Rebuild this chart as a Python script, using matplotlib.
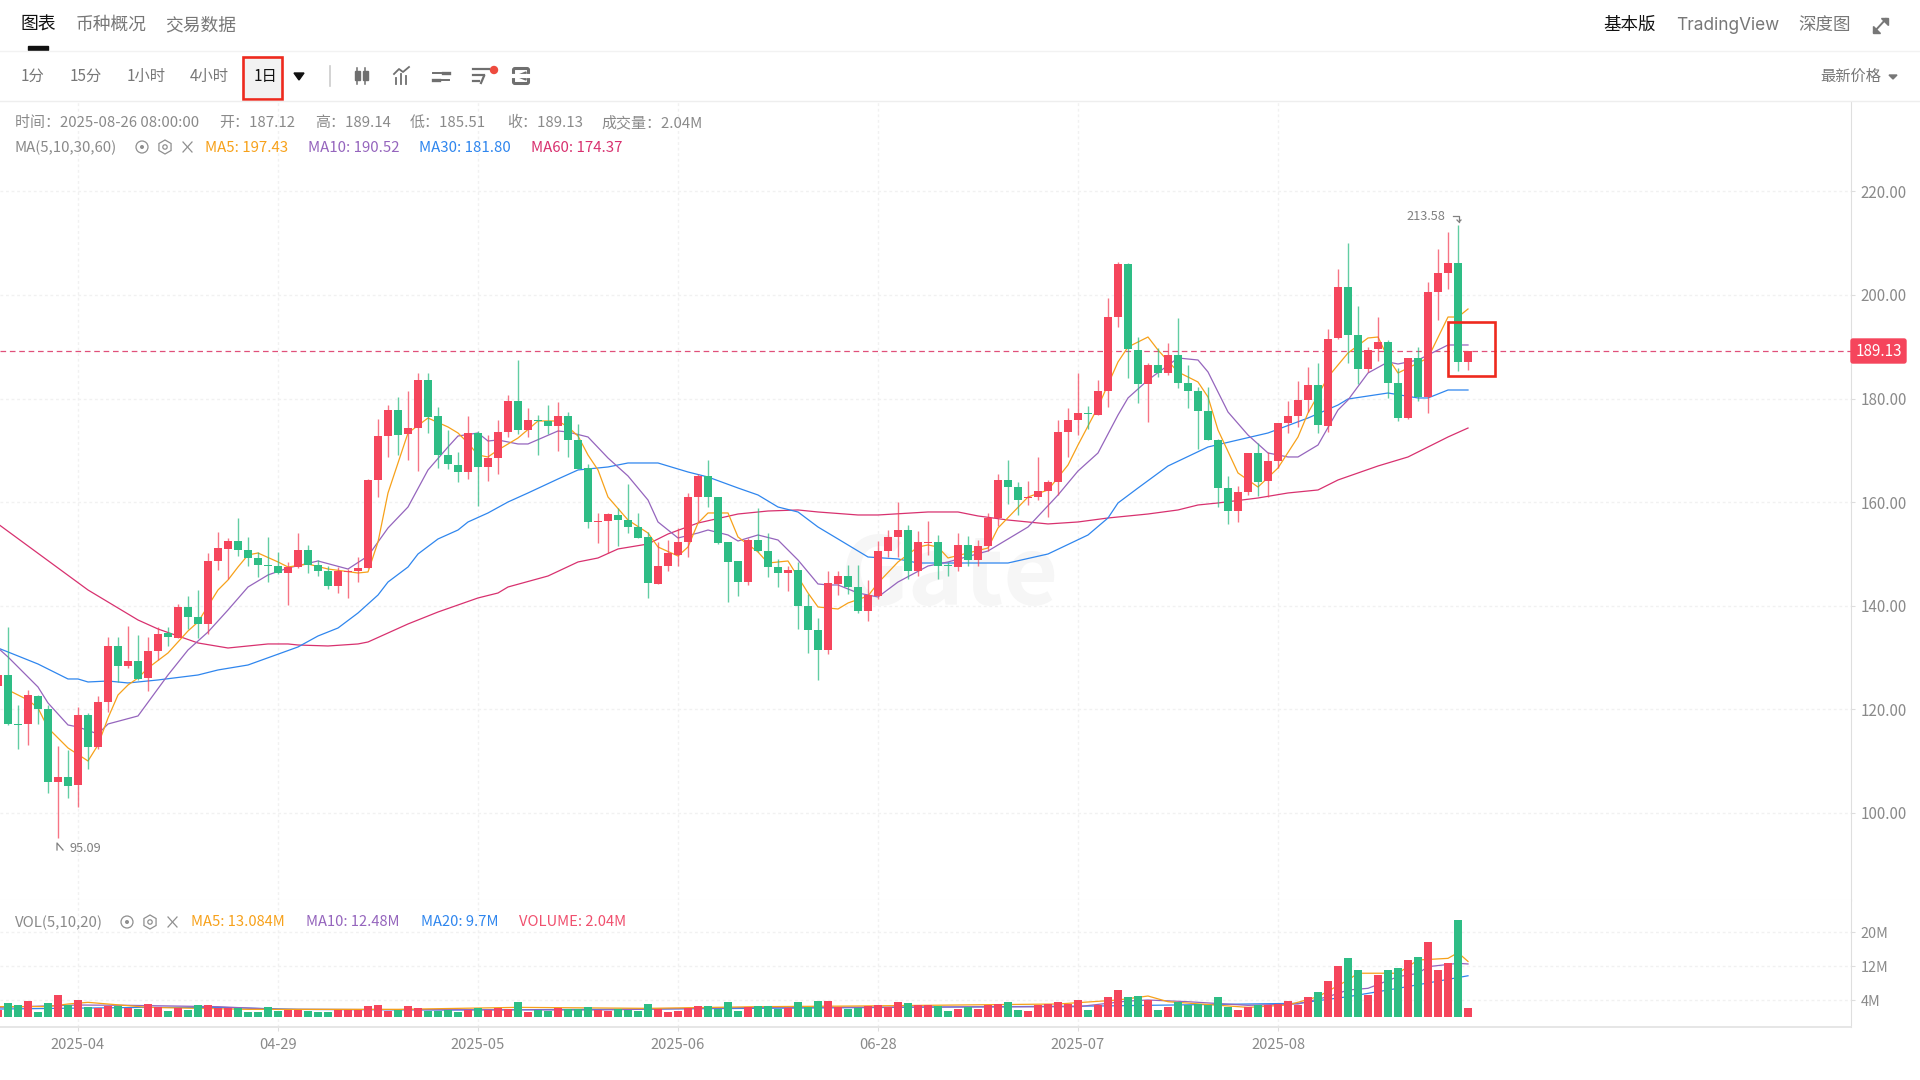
import numpy as np
import matplotlib
matplotlib.use("Agg")
import matplotlib.pyplot as plt
from matplotlib.patches import Rectangle, Circle, RegularPolygon, FancyBboxPatch, Polygon

plt.rcParams['font.family'] = ['Noto Sans CJK SC', 'DejaVu Sans']

# --- daily candles ---
opens = [124.58, 126.64, 117.18, 117.11, 122.58, 120.07, 105.91, 106.88, 105.47, 118.91,
         112.67, 121.36, 132.23, 128.44, 129.27, 126.00, 131.33, 134.68, 133.84, 139.76,
         137.83, 136.55, 148.71, 151.02, 152.44, 150.83, 149.16, 147.87, 147.68, 146.26,
         147.49, 150.83, 147.87, 146.71, 143.82, 146.52, 146.78, 147.23, 164.28, 172.78,
         177.86, 173.23, 174.26, 183.65, 176.64, 169.11, 167.24, 165.83, 173.29, 166.79,
         168.47, 173.49, 179.53, 173.94, 175.87, 175.74, 174.77, 176.64, 172.07, 166.54,
         156.24, 156.37, 157.53, 156.56, 155.21, 153.22, 144.27, 147.68, 149.74, 152.31,
         161.00, 165.06, 161.00, 152.31, 148.58, 144.59, 152.70, 150.58, 147.42, 146.27,
         146.91, 139.96, 135.33, 131.47, 144.21, 145.76, 143.57, 139.06, 141.89, 150.58,
         153.22, 154.70, 146.79, 152.06, 152.25, 147.75, 147.43, 151.74, 148.84, 151.55,
         156.89, 164.29, 162.94, 160.81, 161.01, 162.10, 163.90, 173.55, 175.87, 177.15,
         176.90, 181.53, 195.69, 205.92, 189.38, 182.76, 186.55, 184.88, 188.48, 182.95,
         181.40, 177.54, 172.01, 162.68, 158.37, 161.97, 169.44, 164.16, 168.02, 175.23,
         176.64, 179.73, 182.69, 174.78, 191.64, 201.48, 192.34, 185.65, 189.51, 190.86,
         182.95, 176.19, 187.77, 180.25, 200.65, 204.18, 206.11, 187.12]
closes = [126.64, 117.18, 117.05, 122.77, 120.14, 105.91, 106.88, 105.21, 118.91, 112.67,
          121.36, 132.23, 128.44, 129.27, 125.93, 131.27, 134.62, 133.97, 139.76, 137.83,
          136.55, 148.64, 151.09, 152.44, 150.83, 149.16, 147.94, 147.74, 146.26, 147.55,
          150.77, 147.87, 146.78, 143.82, 146.71, 146.65, 147.23, 164.28, 172.78, 177.86,
          173.03, 174.26, 183.65, 176.51, 169.11, 167.44, 165.83, 173.29, 166.79, 168.47,
          173.49, 179.53, 173.94, 175.93, 175.74, 174.77, 176.64, 172.07, 166.47, 156.18,
          156.37, 157.66, 156.56, 155.21, 153.15, 144.33, 147.68, 150.13, 152.31, 161.00,
          165.06, 161.00, 152.19, 148.45, 144.59, 152.70, 150.58, 147.42, 146.27, 146.91,
          140.03, 135.33, 131.47, 144.34, 145.76, 143.57, 139.00, 142.09, 150.52, 153.22,
          154.70, 146.79, 152.25, 152.19, 147.75, 147.62, 151.74, 148.84, 151.48, 156.95,
          164.29, 162.94, 160.43, 160.94, 162.10, 163.84, 173.55, 175.87, 177.15, 177.03,
          181.40, 195.69, 205.92, 189.51, 182.76, 186.55, 184.88, 188.42, 183.08, 181.53,
          177.67, 172.07, 162.68, 158.37, 161.97, 169.44, 163.97, 167.89, 175.23, 176.64,
          179.79, 182.69, 174.84, 191.57, 201.48, 192.34, 185.65, 189.38, 190.86, 182.95,
          176.19, 187.77, 180.25, 200.52, 204.18, 206.11, 187.00, 189.13]
highs = [127.60, 135.97, 120.84, 123.74, 122.77, 120.84, 112.93, 112.16, 120.52, 119.24,
         122.58, 134.04, 134.04, 136.10, 134.36, 134.04, 135.97, 135.84, 140.34, 141.89,
         143.05, 150.12, 154.18, 153.02, 156.88, 153.21, 150.32, 153.21, 150.32, 148.52,
         153.98, 151.73, 148.84, 147.68, 147.55, 147.10, 149.35, 164.41, 176.06, 178.76,
         180.24, 181.40, 184.88, 184.88, 178.31, 173.94, 169.75, 176.64, 173.74, 172.97,
         175.87, 180.69, 187.45, 178.12, 176.83, 178.76, 179.34, 177.41, 175.09, 167.37,
         157.85, 157.85, 158.81, 163.51, 157.85, 154.31, 152.38, 152.70, 155.08, 161.71,
         165.44, 168.14, 161.07, 152.38, 148.65, 153.02, 158.81, 154.12, 148.97, 147.68,
         148.52, 142.28, 137.58, 146.72, 146.72, 147.88, 147.88, 144.98, 152.51, 154.64,
         159.98, 155.60, 154.44, 156.37, 153.67, 148.39, 153.99, 153.48, 152.71, 157.85,
         165.38, 168.15, 163.84, 164.10, 168.66, 164.29, 175.87, 178.12, 184.88, 178.57,
         183.59, 199.36, 206.31, 206.12, 191.83, 186.81, 189.71, 190.67, 195.50, 186.49,
         182.31, 182.31, 172.14, 165.06, 163.13, 169.56, 171.37, 169.76, 175.36, 179.54,
         183.40, 186.04, 186.81, 193.50, 204.96, 209.98, 197.88, 190.03, 195.69, 191.31,
         185.84, 187.90, 189.90, 202.51, 208.82, 212.23, 213.58, 189.14]
lows = [123.74, 116.98, 112.29, 113.12, 117.11, 103.79, 95.09, 102.83, 101.09, 108.43,
        112.29, 119.56, 125.35, 128.05, 125.67, 123.61, 129.53, 132.23, 133.71, 135.45,
        133.71, 134.55, 146.91, 145.10, 149.67, 147.74, 145.49, 144.65, 146.13, 140.15,
        147.36, 146.26, 145.75, 143.17, 142.40, 141.44, 144.66, 147.20, 161.07, 168.79,
        169.11, 168.14, 166.09, 173.29, 166.54, 166.34, 163.96, 164.41, 159.33, 164.15,
        165.38, 172.52, 173.16, 172.52, 169.11, 173.16, 169.95, 168.66, 166.34, 154.95,
        152.06, 150.13, 151.54, 153.99, 153.02, 141.44, 144.14, 146.72, 147.68, 149.35,
        156.11, 159.14, 151.86, 140.80, 141.89, 144.01, 150.45, 145.49, 143.69, 142.92,
        135.46, 130.83, 125.68, 130.63, 142.09, 142.28, 138.55, 137.13, 141.25, 149.49,
        149.49, 145.11, 145.76, 149.81, 145.11, 145.76, 146.79, 147.75, 147.75, 150.65,
        155.41, 159.59, 157.53, 159.46, 160.43, 157.21, 161.39, 168.79, 172.97, 174.07,
        176.77, 178.44, 193.89, 183.91, 179.09, 175.55, 184.24, 184.56, 182.11, 178.25,
        170.27, 172.01, 159.14, 155.79, 156.24, 161.39, 161.26, 161.07, 166.54, 173.30,
        174.58, 177.48, 173.43, 173.62, 191.44, 186.81, 182.82, 185.20, 187.32, 180.05,
        175.74, 176.00, 179.54, 177.16, 195.18, 201.10, 185.33, 185.51]
volumes = [1.65, 3.22, 2.82, 3.76, 1.10, 3.22, 5.18, 2.82, 4.00, 2.27,
           2.20, 2.59, 2.59, 2.20, 1.88, 2.98, 2.43, 1.41, 2.04, 1.65,
           2.82, 2.82, 2.04, 2.04, 2.04, 1.10, 1.10, 2.27, 1.49, 1.65,
           1.65, 1.49, 1.10, 1.25, 1.65, 1.65, 1.65, 2.59, 2.82, 1.49,
           1.65, 2.59, 2.04, 1.49, 1.49, 1.65, 1.25, 1.65, 2.04, 1.65,
           2.04, 1.80, 3.45, 1.25, 1.65, 1.49, 2.04, 1.88, 1.88, 2.27,
           1.65, 1.49, 1.88, 1.65, 1.41, 3.06, 1.88, 1.10, 1.49, 2.04,
           2.59, 2.59, 1.88, 3.45, 1.49, 2.27, 2.59, 2.59, 1.80, 2.04,
           3.45, 2.43, 3.76, 3.76, 2.27, 1.96, 2.20, 2.59, 2.75, 2.27,
           3.45, 3.22, 2.75, 2.90, 2.59, 1.41, 1.96, 2.27, 1.88, 2.75,
           3.06, 3.45, 1.65, 1.41, 2.75, 3.14, 3.45, 3.14, 4.00, 1.65,
           2.75, 4.63, 6.35, 4.63, 4.94, 4.00, 1.65, 2.27, 3.45, 2.75,
           3.06, 2.90, 4.63, 2.27, 1.65, 2.27, 2.90, 2.75, 3.06, 3.76,
           2.90, 4.63, 5.88, 8.47, 12.00, 13.80, 11.06, 5.18, 9.88, 11.06,
           11.45, 13.41, 14.04, 17.57, 11.06, 12.63, 22.82, 2.04]

# --- moving averages, read at the bends only ---
ma5_idx = [1, 3, 4, 5, 7, 9, 10, 11, 12, 13, 14, 15, 17, 19, 20, 22, 23, 24, 25, 26, 28, 29, 31, 33, 36, 37, 38,
           39, 41, 43, 45, 46, 47, 48, 49, 50, 52, 54, 56, 57, 58, 59, 60, 61, 63, 65, 66, 68, 69, 70, 71, 73,
           74, 76, 77, 79, 81, 82, 84, 85, 87, 88, 90, 92, 93, 94, 95, 97, 99, 100, 103, 105, 107, 108, 110,
           112, 113, 115, 116, 118, 120, 121, 122, 124, 126, 128, 130, 131, 133, 135, 137, 138, 139, 140, 143,
           145, 146, 147]
ma5 = [123.75, 121.81, 120.27, 116.41, 112.55, 110.04, 113.13, 118.34, 122.78, 124.71, 126.06, 127.99, 130.89,
       135.14, 136.87, 143.05, 144.98, 147.49, 149.81, 150.19, 148.46, 147.49, 148.07, 147.10, 146.33, 146.53,
       152.32, 161.78, 173.36, 176.25, 174.52, 173.36, 171.43, 169.11, 168.73, 170.08, 172.39, 175.68, 175.68,
       174.52, 172.78, 169.11, 166.22, 161.00, 156.56, 154.05, 151.35, 149.61, 151.35, 155.98, 157.92, 157.92,
       153.28, 150.39, 148.26, 148.65, 142.47, 139.77, 139.38, 140.54, 141.89, 144.40, 148.46, 151.35, 151.74,
       151.35, 149.23, 150.19, 151.16, 155.02, 161.00, 162.36, 167.18, 171.04, 178.38, 187.07, 189.96, 191.89,
       189.38, 185.14, 183.20, 180.31, 173.94, 165.64, 162.93, 166.60, 172.59, 177.22, 184.17, 188.80, 191.70,
       191.89, 187.84, 184.94, 187.84, 195.75, 195.75, 197.30]
ma10_idx = [0, 1, 4, 5, 7, 8, 10, 11, 14, 17, 19, 21, 23, 25, 27, 29, 32, 35, 37, 39, 41, 43, 45, 46, 48, 49, 50,
            52, 53, 56, 57, 59, 61, 63, 65, 66, 68, 70, 71, 73, 74, 76, 78, 80, 82, 83, 84, 86, 88, 90, 93, 95,
            99, 103, 106, 108, 110, 112, 113, 115, 118, 120, 121, 123, 125, 127, 129, 130, 132, 134, 135, 137,
            139, 140, 142, 145, 147]
ma10 = [131.85, 130.12, 124.32, 121.24, 116.99, 116.60, 115.25, 117.18, 118.73, 126.64, 131.47, 134.94, 139.19,
        143.63, 145.95, 147.30, 148.65, 147.10, 149.61, 155.02, 159.07, 166.22, 170.66, 172.78, 173.36, 171.81,
        172.01, 171.24, 171.24, 173.75, 173.55, 172.59, 168.53, 165.06, 160.42, 156.18, 153.09, 154.05, 154.63,
        153.67, 152.51, 153.67, 152.70, 148.84, 144.21, 144.02, 144.02, 142.47, 141.70, 144.59, 147.68, 148.46,
        150.58, 155.21, 161.39, 166.02, 169.50, 176.83, 180.12, 183.59, 187.84, 187.45, 185.14, 177.41, 172.97,
        169.50, 168.73, 168.73, 171.04, 177.80, 179.73, 184.94, 187.07, 186.68, 187.45, 190.35, 190.35]
ma30_idx = [0, 2, 4, 7, 8, 9, 11, 13, 16, 20, 22, 25, 30, 32, 34, 36, 38, 39, 41, 42, 44, 46, 47, 49, 51, 53, 56,
            58, 61, 63, 66, 69, 71, 74, 76, 78, 80, 82, 84, 87, 90, 92, 101, 105, 109, 111, 112, 114, 117, 121,
            127, 131, 134, 135, 139, 142, 143, 145, 147]
ma30 = [131.85, 130.31, 128.76, 125.87, 125.87, 125.29, 125.48, 125.10, 125.68, 126.64, 127.61, 128.57, 132.05,
        134.17, 135.71, 138.61, 142.08, 144.59, 147.49, 150.00, 152.90, 154.63, 156.18, 157.92, 160.04, 161.78,
        164.48, 166.22, 166.80, 167.57, 167.57, 165.83, 164.86, 162.74, 161.39, 159.07, 158.11, 155.21, 152.90,
        149.42, 149.04, 148.26, 148.26, 150.00, 153.67, 156.95, 159.85, 162.74, 166.99, 170.66, 173.36, 176.25,
        178.76, 179.92, 181.08, 180.12, 180.12, 181.66, 181.66]
ma60_idx = [0, 9, 14, 16, 20, 23, 27, 29, 30, 33, 36, 37, 39, 41, 44, 48, 50, 51, 55, 58, 60, 62, 65, 67, 70, 74,
            77, 80, 82, 86, 88, 93, 96, 98, 101, 105, 108, 111, 115, 118, 120, 122, 126, 129, 132, 134, 138,
            141, 144, 145, 147]
ma60 = [155.80, 143.05, 137.26, 135.52, 132.82, 131.85, 132.63, 132.63, 132.43, 132.24, 132.63, 133.01, 134.75,
        136.49, 138.80, 141.51, 142.47, 143.63, 145.75, 148.46, 149.23, 150.97, 151.93, 153.86, 155.98, 157.72,
        158.30, 158.50, 158.11, 157.53, 157.53, 158.11, 158.11, 157.34, 156.56, 155.80, 156.18, 156.95, 157.72,
        158.50, 159.46, 159.85, 160.81, 161.78, 162.36, 164.29, 166.99, 168.73, 171.62, 172.59, 174.32]

vol_ma5_idx = [0, 5, 7, 9, 11, 15, 25, 40, 52, 65, 76, 86, 106, 112, 115, 117, 125, 129, 132, 135, 136, 140, 142, 145, 146, 147]
vol_ma5 = [2.45, 2.45, 3.06, 3.45, 3.06, 2.27, 1.80, 1.80, 2.27, 2.04, 2.43, 2.59, 3.06, 4.00, 4.94, 3.60, 2.27, 2.82,
           4.78, 8.70, 10.30, 10.30, 13.41, 13.80, 15.14, 13.08]
vol_ma10_idx = [0, 8, 13, 22, 28, 60, 76, 108, 113, 115, 119, 125, 130, 133, 135, 137, 140, 142, 143, 146, 147]
vol_ma10 = [2.27, 2.82, 2.75, 2.43, 1.80, 1.65, 2.27, 2.43, 3.76, 4.00, 3.60, 2.75, 3.06, 4.78, 6.35, 6.75, 9.49, 10.27,
            11.84, 12.63, 12.48]
vol_ma20_idx = [0, 15, 22, 30, 45, 60, 76, 110, 130, 135, 140, 147]
vol_ma20 = [1.88, 2.27, 2.27, 1.80, 1.65, 1.80, 2.04, 2.59, 3.22, 4.78, 6.75, 9.70]

y_ticks = [100, 120, 140, 160, 180, 200, 220]
vol_ticks = [4, 12, 20]
vol_tick_labels = ['4M', '12M', '20M']
date_idx = [8, 28, 48, 68, 88, 108, 128]
date_labels = ['2025-04', '04-29', '2025-05', '2025-06', '06-28', '2025-07', '2025-08']
last_price = 189.13
top_price = 213.58
bottom_price = 95.09

RED = '#f5455c'
GREEN = '#2ebd85'
C_MA5 = '#f7a11a'
C_MA10 = '#9565bd'
C_MA30 = '#2f86ee'
C_MA60 = '#d8316f'
GREY = '#8a8a8a'
GRID = '#f1f1f1'
FS = 10.8

opens, closes, highs, lows, volumes = map(np.array, (opens, closes, highs, lows, volumes))
idx = np.arange(len(opens))
up = closes >= opens
cols = np.where(up, RED, GREEN)

fig = plt.figure(figsize=(19.2, 10.8), dpi=100)
ax = fig.add_axes([0, 180 / 1080, 1851 / 1920, 798 / 1080])
ax_vol = fig.add_axes([0, 53 / 1080, 1851 / 1920, 127 / 1080])

# --- price pane ---
ax.text(95.2, 145.5, 'Gate', color='#f6f6f6', fontsize=68, fontweight='bold', ha='center', va='center', zorder=1)
ax.axhline(last_price, color='#e0507a', lw=0.9, dashes=(4.5, 3), zorder=2)
ax.plot(ma60_idx, ma60, color=C_MA60, lw=0.9, zorder=3)
ax.plot(ma30_idx, ma30, color=C_MA30, lw=0.9, zorder=3)
ax.plot(ma10_idx, ma10, color=C_MA10, lw=0.9, zorder=3)
ax.plot(ma5_idx, ma5, color=C_MA5, lw=0.9, zorder=3)
ax.vlines(idx, lows, highs, color=cols, lw=1.0, alpha=0.75, zorder=4)
ax.bar(idx, np.maximum(np.abs(closes - opens), 0.2), bottom=np.minimum(opens, closes),
       width=0.88, color=cols, zorder=5)
ax.set_xlim(0.2, 185.3)
ax.set_ylim(83.2, 237.26)
ax.set_yticks(y_ticks)
ax.set_yticklabels([f'{v:.2f}' for v in y_ticks], color=GREY, fontsize=10.9)
ax.yaxis.tick_right()
ax.tick_params(axis='y', length=3, color='#dddddd', pad=4)
ax.set_xticks(date_idx)
ax.tick_params(axis='x', length=0, labelbottom=False)
ax.grid(True, color=GRID, lw=1.0, ls=(0, (2, 2)), zorder=0)
ax.set_axisbelow(True)

# --- volume pane ---
ax_vol.plot(vol_ma20_idx, vol_ma20, color=C_MA30, lw=0.9, zorder=2)
ax_vol.plot(vol_ma10_idx, vol_ma10, color=C_MA10, lw=0.9, zorder=2)
ax_vol.plot(vol_ma5_idx, vol_ma5, color=C_MA5, lw=0.9, zorder=2)
ax_vol.bar(idx, volumes, width=0.8, color=cols, zorder=3)
ax_vol.set_xlim(0.2, 185.3)
ax_vol.set_ylim(-2.35, 27.53)
ax_vol.set_yticks(vol_ticks)
ax_vol.set_yticklabels(vol_tick_labels, color=GREY, fontsize=10.4)
ax_vol.yaxis.tick_right()
ax_vol.tick_params(axis='y', length=3, color='#dddddd', pad=4)
ax_vol.set_xticks(date_idx)
ax_vol.set_xticklabels(date_labels, color=GREY, fontsize=10.6)
ax_vol.tick_params(axis='x', length=3, color='#dddddd', pad=5)
ax_vol.grid(True, color=GRID, lw=1.0, ls=(0, (2, 2)), zorder=0)
ax_vol.set_axisbelow(True)

for a in (ax, ax_vol):
    for side in ('top', 'left'):
        a.spines[side].set_visible(False)
    a.spines['right'].set_color('#dfdfdf')
    a.spines['bottom'].set_color('#e4e4e4')
ax.spines['bottom'].set_color('#f0f0f0')
ax_vol.spines['bottom'].set_linewidth(1.3)

# --- page furniture, drawn in picture pixels ---
ui = fig.add_axes([0, 0, 1, 1], facecolor='none', zorder=10)
ui.set_xlim(0, 1920)
ui.set_ylim(1080, 0)
ui.axis('off')


def label(x, y, s, color=GREY, size=FS, **kw):
    kw.setdefault('va', 'center')
    ui.text(x, y, s, color=color, fontsize=size, **kw)


def eye_icons(x, y):
    ui.add_patch(Circle((x, y), 6, fill=False, ec='#8f8f8f', lw=0.9))
    ui.add_patch(Circle((x, y), 1.3, color='#8f8f8f'))
    ui.add_patch(RegularPolygon((x + 23, y), 6, radius=7, fill=False, ec='#8f8f8f', lw=0.9))
    ui.add_patch(Circle((x + 23, y), 2.2, fill=False, ec='#8f8f8f', lw=0.9))
    ui.plot([x + 41, x + 50], [y - 5, y + 5], color='#8f8f8f', lw=0.9)
    ui.plot([x + 41, x + 50], [y + 5, y - 5], color='#8f8f8f', lw=0.9)


# header row
ui.plot([0, 1920], [51, 51], color='#f2f2f2', lw=1)
ui.plot([0, 1920], [101, 101], color='#eeeeee', lw=1)
label(20, 25, '图表', color='#111111', size=12.8, fontweight='medium')
label(76, 25, '币种概况', color='#777777', size=12.8)
label(165, 25, '交易数据', color='#777777', size=12.8)
ui.add_patch(Rectangle((28, 46), 20, 4, color='#111111'))
label(1603, 25, '基本版', color='#111111', size=12.6, fontweight='medium')
ui.text(1676, 25, 'TradingView', color='#777777', fontsize=12.4, family='Inter', va='center')
label(1798, 25, '深度图', color='#777777', size=12.6)
ui.plot([1874, 1886], [32, 19], color='#777777', lw=1.4)
ui.add_patch(Polygon([[1881, 18], [1888, 18], [1888, 25]], color='#777777'))
ui.add_patch(Polygon([[1873, 26], [1873, 33], [1880, 33]], color='#777777'))

# toolbar row
for x, s in zip([21, 70, 127, 190], ['1分', '15分', '1小时', '4小时']):
    label(x, 76.5, s, color='#777777', size=11)
ui.add_patch(Rectangle((243, 57), 38, 41, color='#f2f2f2'))
label(254, 76.5, '1日', color='#111111', size=11)
ui.add_patch(Rectangle((242.5, 56.5), 39.5, 42, fill=False, ec='#ee2a1e', lw=1.9))
ui.add_patch(Polygon([[294, 73], [304, 73], [299, 80]], color='#111111'))
ui.plot([329.5, 329.5], [66, 86], color='#cccccc', lw=1.2)
label(1820, 76.5, '最新价格', color='#777777', size=11)
ui.add_patch(Polygon([[1889, 75], [1897, 75], [1893, 79]], color='#777777'))
# toolbar icons
IC = '#6f6f6f'
for x0 in (357, 365):
    ui.plot([x0, x0], [68, 84], color=IC, lw=1.1)
    ui.add_patch(Rectangle((x0 - 2.5, 71), 5, 9, color=IC))
for x0, y0 in zip((396, 401, 406), (78, 74, 76)):
    ui.plot([x0, x0], [y0, 84], color=IC, lw=1.3)
ui.plot([394, 399, 403, 409], [74, 69, 72, 67], color=IC, lw=1.3)
ui.plot([433, 441], [72.5, 72.5], color=IC, lw=1.4)
ui.plot([443, 449], [72.5, 72.5], color=IC, lw=2.4)
ui.plot([433, 439], [79.5, 79.5], color=IC, lw=2.4)
ui.plot([441, 449], [79.5, 79.5], color=IC, lw=1.4)
ui.plot([473, 489], [69, 69], color=IC, lw=1.6)
ui.plot([473, 484], [75, 75], color=IC, lw=1.6)
ui.plot([473, 479], [81, 81], color=IC, lw=1.6)
ui.plot([484, 481], [76, 83], color=IC, lw=1.6)
ui.add_patch(Circle((494, 70), 3.5, color='#ee4b3e'))
ui.add_patch(FancyBboxPatch((515, 70), 12, 12, boxstyle='round,pad=1.5', fill=False, ec=IC, lw=2.2))
ui.plot([513, 529], [76, 76], color='white', lw=3)
ui.add_patch(Polygon([[516, 76], [526, 72], [526, 80]], color=IC))

# legend rows
for x, s in zip([15, 219, 315, 410, 507, 601],
                ['时间：2025-08-26 08:00:00', '开：187.12', '高：189.14', '低：185.51', '收：189.13', '成交量：2.04M']):
    label(x, 123, s)
label(15, 148, 'MA(5,10,30,60)')
eye_icons(142, 147)
for x, s, c in zip([205, 308, 419, 531],
                   ['MA5: 197.43', 'MA10: 190.52', 'MA30: 181.80', 'MA60: 174.37'],
                   [C_MA5, C_MA10, C_MA30, C_MA60]):
    label(x, 148, s, color=c)
label(15, 922.5, 'VOL(5,10,20)')
eye_icons(127, 922)
for x, s, c in zip([191, 306, 421, 519],
                   ['MA5: 13.084M', 'MA10: 12.48M', 'MA20: 9.7M', 'VOLUME: 2.04M'],
                   [C_MA5, C_MA10, C_MA30, '#f0506e']):
    label(x, 922.5, s, color=c, size=10.6)

# high / low markers
label(1406, 217, f'{top_price:.2f}', color='#808080', size=9.2)
ui.plot([1453, 1459, 1459], [216, 216, 222], color='#808080', lw=0.9)
ui.plot([1457, 1459, 1461], [220, 222, 220], color='#808080', lw=0.9)
label(70, 848, f'{bottom_price:.2f}', color='#808080', size=9.2)
ui.plot([57, 57, 63], [850, 843, 850], color='#808080', lw=0.9)

# last price tag and highlight box
ui.add_patch(FancyBboxPatch((1851, 339), 55, 24, boxstyle='round,pad=0,rounding_size=2', color=RED))
label(1878.5, 351.5, f'{last_price:.2f}', color='white', size=10.9, ha='center', fontweight='medium')
ui.add_patch(Rectangle((1448, 322), 47, 53.5, fill=False, ec='#ee2a1e', lw=1.9))

fig.savefig('out.png', dpi=100)
